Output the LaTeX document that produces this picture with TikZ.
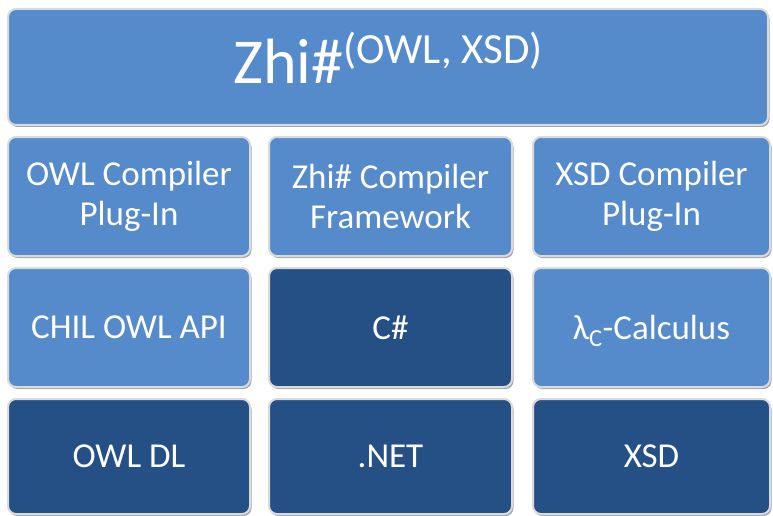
\documentclass[tikz,border=0pt]{standalone}
\usepackage{fontspec}
\setmainfont{Carlito}
\usetikzlibrary{shadows}
\definecolor{lightblue}{RGB}{85,138,203}
\definecolor{darkblue}{RGB}{37,80,133}
\definecolor{halo}{RGB}{218,218,218}
\tikzset{
  box/.style={rounded corners=8pt, draw=halo, line width=2pt, inner sep=0pt,
    text=white, align=center, font=\fontsize{35}{40}\selectfont,
    drop shadow={shadow xshift=1.5pt, shadow yshift=-2pt, opacity=0.35, fill=black}},
  lbox/.style={box, fill=lightblue},
  dbox/.style={box, fill=darkblue},
  c1/.style={minimum width=242pt},
  c2/.style={minimum width=243pt},
  c3/.style={minimum width=237pt},
  r2/.style={minimum height=119pt},
  r3/.style={minimum height=119pt},
  r4/.style={minimum height=115pt}
}
\begin{document}
\begin{tikzpicture}[x=1pt,y=1pt]
\useasboundingbox (0,0) rectangle (773,-516);
\fill[white] (0,0) rectangle (773,-516);
\node[lbox, minimum width=760pt, minimum height=116pt, font=\fontsize{64}{70}\selectfont] (top) at (388,-67)
  {\smash{Zhi\#\raisebox{20pt}{\fontsize{43}{46}\selectfont(OWL, XSD)}}\vphantom{Z}\raisebox{-9pt}{\vphantom{Z}}};
\node[lbox, c1, r2] (owlplug) at (129,-196.5) {OWL Compiler\\Plug-In};
\node[lbox, c2, r2] (zhifw) at (390.5,-196.5) {Zhi\# Compiler\\Framework};
\node[lbox, c3, r2] (xsdplug) at (651.5,-196.5) {XSD Compiler\\Plug-In};
\node[lbox, c1, r3] (chil) at (129,-327.5) {CHIL OWL API};
\node[dbox, c2, r3] (cs) at (390.5,-327.5) {C\#};
\node[lbox, c3, r3] (lambda) at (651.5,-327.5) {\smash{λ\textsubscript{C}}-Calculus};
\node[dbox, c1, r4] (owldl) at (129,-456.5) {OWL DL};
\node[dbox, c2, r4] (net) at (390.5,-456.5) {.NET};
\node[dbox, c3, r4] (xsd) at (651.5,-456.5) {XSD};
\end{tikzpicture}
\end{document}
